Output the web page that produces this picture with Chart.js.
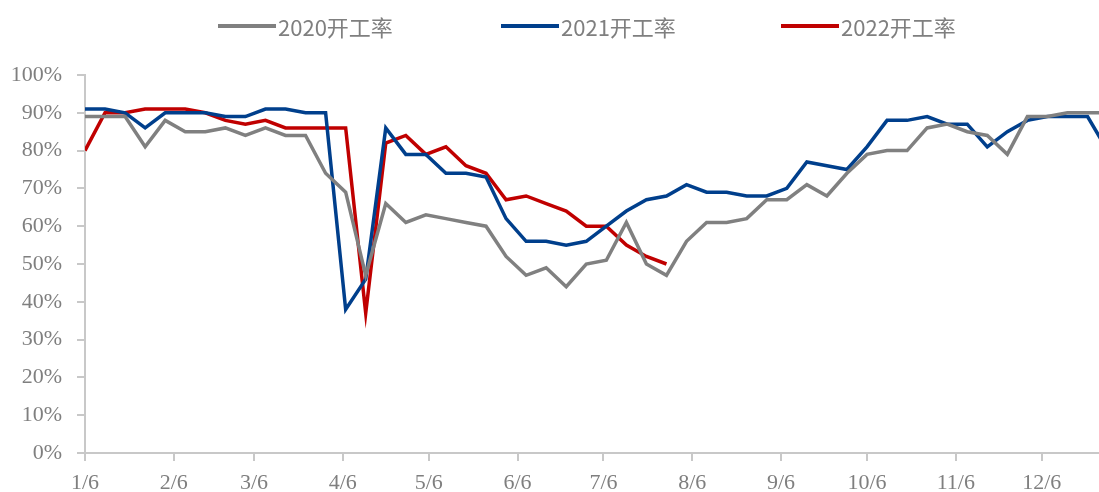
<!DOCTYPE html>
<html>
<head>
<meta charset="utf-8">
<script src="https://cdn.jsdelivr.net/npm/chart.js@4/dist/chart.umd.min.js"></script>
<style>
  html, body { margin: 0; padding: 0; background: #fff; }
  #wrap { position: relative; width: 1099px; height: 492px; }
  #legend { position: absolute; top: 11px; left: 0; width: 1099px; height: 30px; font-family: "Noto Sans CJK SC", "Noto Sans", sans-serif; font-size: 22px; color: #7f7f7f; }
  .item { position: absolute; top: 0; display: flex; align-items: center; height: 30px; }
  .swatch { width: 58px; height: 4px; margin-right: 2px; }
</style>
</head>
<body>
<div id="wrap">
  <canvas id="chart" width="1099" height="492"></canvas>
  <div id="legend"></div>
</div>
<script>
// days after 1/6 for each monthly tick, and the labels shown there
const monthTicks = [0, 31, 59, 90, 120, 151, 181, 212, 243, 273, 304, 334];
const monthLabels = ["1/6", "2/6", "3/6", "4/6", "5/6", "6/6", "7/6", "8/6", "9/6", "10/6", "11/6", "12/6"];
const weekStep = 7; // one reading per week, starting 1/6

const rate2020 = [89, 89, 89, 81, 88, 85, 85, 86, 84, 86, 84, 84, 74, 69, 47, 66, 61, 63, 62, 61, 60, 52, 47, 49, 44, 50, 51, 61, 50, 47, 56, 61, 61, 62, 67, 67, 71, 68, 74, 79, 80, 80, 86, 87, 85, 84, 79, 89, 89, 90, 90, 90];
const rate2021 = [91, 91, 90, 86, 90, 90, 90, 89, 89, 91, 91, 90, 90, 38, 46, 86, 79, 79, 74, 74, 73, 62, 56, 56, 55, 56, 60, 64, 67, 68, 71, 69, 69, 68, 68, 70, 77, 76, 75, 81, 88, 88, 89, 87, 87, 81, 85, 88, 89, 89, 89, 80];
const rate2022 = [80, 90, 90, 91, 91, 91, 90, 88, 87, 88, 86, 86, 86, 86, 37, 82, 84, 79, 81, 76, 74, 67, 68, 66, 64, 60, 60, 55, 52, 50];

const seriesNames = ["2020开工率", "2021开工率", "2022开工率"];
const seriesColors = ["#808080", "#003f8c", "#c00000"];

const toPoints = (values) => values.map((v, i) => ({ x: i * weekStep, y: v }));

const legend = document.getElementById("legend");
const legendLeft = [218, 501, 781];
seriesNames.forEach((name, i) => {
  const item = document.createElement("div");
  item.className = "item";
  item.style.left = legendLeft[i] + "px";
  item.innerHTML = `<span class="swatch" style="background:${seriesColors[i]}"></span><span>${name}</span>`;
  legend.appendChild(item);
});

const axisColor = "#c8c8c8";
const tickFont = { family: "'Liberation Serif', 'Times New Roman', serif", size: 22 };

new Chart(document.getElementById("chart"), {
  type: "line",
  data: {
    datasets: [rate2020, rate2021, rate2022].map((values, i) => ({
      label: seriesNames[i],
      data: toPoints(values),
      borderColor: seriesColors[i],
      backgroundColor: seriesColors[i],
      borderWidth: 3.5,
      pointRadius: 0,
      tension: 0,
      fill: false,
    })),
  },
  options: {
    responsive: false,
    animation: false,
    layout: { padding: { top: 75, right: 0, left: 0, bottom: 0 } },
    plugins: { legend: { display: false }, tooltip: { enabled: false } },
    scales: {
      x: {
        type: "linear",
        min: 0,
        max: 354,
        afterBuildTicks: (scale) => {
          scale.ticks = monthTicks.map((v) => ({ value: v }));
        },
        afterFit: (scale) => { scale.height = 39; },
        ticks: {
          autoSkip: false,
          maxRotation: 0,
          color: "#7f7f7f",
          font: tickFont,
          padding: 9,
          callback: (value) => monthLabels[monthTicks.indexOf(value)],
        },
        grid: { drawOnChartArea: false, drawTicks: true, tickLength: 8, color: axisColor, lineWidth: 2 },
        border: { display: true, color: axisColor, width: 2 },
      },
      y: {
        min: 0,
        max: 100,
        afterFit: (scale) => { scale.width = 85; },
        ticks: {
          stepSize: 10,
          color: "#7f7f7f",
          font: tickFont,
          padding: 15,
          callback: (value) => value + "%",
        },
        grid: { drawOnChartArea: false, drawTicks: true, tickLength: 8, color: axisColor, lineWidth: 2 },
        border: { display: true, color: axisColor, width: 2 },
      },
    },
  },
});
</script>
</body>
</html>
